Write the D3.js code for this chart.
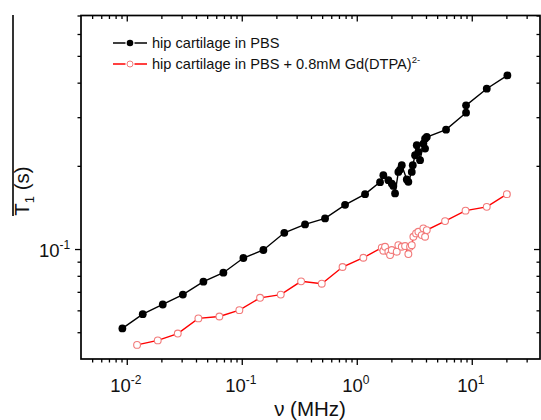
<!DOCTYPE html>
<html><head><meta charset="utf-8">
<script src="https://cdn.jsdelivr.net/npm/d3@7"></script>
<style>body{margin:0;background:#fff}svg{display:block}text{font-family:"Liberation Sans",Arial,sans-serif}</style>
</head><body><div id="chart"></div>
<script>
// ---- data ----
const freqBlack = [0.00916,0.01377,0.02056,0.03076,0.0464,0.0692,0.1033,0.1542,0.2344,0.355,0.530,0.791,1.181,
  1.594,1.703,1.883,2.015,2.081,2.153,2.300,2.379,2.462,2.722,2.810,3.008,3.069,3.214,3.325,3.434,3.552,3.794,3.926,3.926,4.062,
  5.976,8.92,8.92,13.5,20.4];
const t1Black = [0.0516,0.0581,0.0630,0.0684,0.0762,0.0821,0.0928,0.0992,0.1145,0.1228,0.1291,0.1445,0.158,
  0.1746,0.185,0.1775,0.1726,0.1692,0.1589,0.1901,0.1939,0.201,0.1785,0.1750,0.1901,0.201,0.2185,0.2374,0.2246,0.2096,0.2407,0.2309,0.2509,0.2543,
  0.2704,0.3114,0.3311,0.3803,0.4249];
const freqRed = [0.01229,0.0186,0.02777,0.04195,0.0639,0.0953,0.1442,0.2183,0.328,0.4962,0.7522,1.141,
  1.650,1.703,1.762,1.883,1.948,2.015,2.227,2.300,2.462,2.630,2.810,2.908,3.008,3.106,3.279,3.434,3.674,3.794,3.926,4.062,
  5.86,8.83,13.5,20.2];
const t1Red = [0.04499,0.0467,0.04945,0.0561,0.0570,0.0601,0.0666,0.0684,0.0764,0.0749,0.0861,0.093,
  0.1011,0.0986,0.1019,0.0978,0.0951,0.0992,0.0978,0.1033,0.1019,0.1025,0.0959,0.1019,0.1033,0.1108,0.1139,0.1155,0.1123,0.1188,0.1108,0.1171,
  0.1262,0.1377,0.1421,0.158];
const xMajor = [0.01,0.1,1,10];
const xMajorLabels = [["10","-2"],["10","-1"],["10","0"],["10","1"]];
const xMinor = [0.005,0.006,0.007,0.008,0.009,0.02,0.03,0.04,0.05,0.06,0.07,0.08,0.09,
  0.2,0.3,0.4,0.5,0.6,0.7,0.8,0.9,2,3,4,5,6,7,8,9,20,30];
const yMajor = [0.1];
const yMajorLabels = [["10","-1"]];
const yMinor = [0.05,0.06,0.07,0.08,0.09,0.2,0.3,0.4,0.5,0.6,0.7];
const legendLabels = ["hip cartilage in PBS", "hip cartilage in PBS + 0.8mM Gd(DTPA)"];

// ---- layout ----
const W = 541, H = 420;
const L = 81, R = 540, T = 15.5, B = 359;
const svg = d3.select("#chart").append("svg").attr("width", W).attr("height", H);
const x = d3.scaleLog().domain([0.004, 40]).range([L, L + 460]);
const y = d3.scaleLog().domain([0.04, 0.7]).range([B, T]);

function styleAxis(g){ g.select(".domain").remove(); g.selectAll("line").attr("stroke","#000").attr("stroke-width",1.3); }

// ticks
svg.append("g").attr("transform",`translate(0,${B})`).call(d3.axisBottom(x).tickValues(xMajor).tickSize(6).tickFormat("")).call(styleAxis);
svg.append("g").attr("transform",`translate(0,${B})`).call(d3.axisBottom(x).tickValues(xMinor).tickSize(3.5).tickFormat("")).call(styleAxis);
svg.append("g").attr("transform",`translate(0,${T})`).call(d3.axisTop(x).tickValues(xMajor).tickSize(-6).tickFormat("")).call(styleAxis);
svg.append("g").attr("transform",`translate(0,${T})`).call(d3.axisTop(x).tickValues(xMinor).tickSize(-3.5).tickFormat("")).call(styleAxis);
svg.append("g").attr("transform",`translate(${L},0)`).call(d3.axisLeft(y).tickValues(yMajor).tickSize(6).tickFormat("")).call(styleAxis);
svg.append("g").attr("transform",`translate(${L},0)`).call(d3.axisLeft(y).tickValues(yMinor).tickSize(3.5).tickFormat("")).call(styleAxis);
svg.append("g").attr("transform",`translate(${R},0)`).call(d3.axisRight(y).tickValues(yMajor).tickSize(-6).tickFormat("")).call(styleAxis);
svg.append("g").attr("transform",`translate(${R},0)`).call(d3.axisRight(y).tickValues(yMinor).tickSize(-3.5).tickFormat("")).call(styleAxis);

// frame
svg.append("rect").attr("x",L).attr("y",T).attr("width",R-L).attr("height",B-T)
  .attr("fill","none").attr("stroke","#000").attr("stroke-width",1.7);

// tick labels
xMajor.forEach((v,i)=>{
  const t = svg.append("text").attr("x", x(v)-1).attr("y", 392).attr("text-anchor","middle").attr("font-size",18.5).attr("fill","#111");
  t.append("tspan").text(xMajorLabels[i][0]);
  t.append("tspan").attr("dy",-8).attr("font-size",12).text(xMajorLabels[i][1]);
});
yMajor.forEach((v,i)=>{
  const t = svg.append("text").attr("x", 39).attr("y", y(v)+8).attr("font-size",18.5).attr("fill","#111");
  t.append("tspan").text(yMajorLabels[i][0]);
  t.append("tspan").attr("dy",-8).attr("font-size",12).text(yMajorLabels[i][1]);
});

// axis titles
svg.append("text").attr("x",310).attr("y",416).attr("text-anchor","middle").attr("font-size",20.5).attr("fill","#111").text("ν (MHz)");
const yt = svg.append("text").attr("transform","translate(29,191) rotate(-90)").attr("text-anchor","middle").attr("font-size",20.5).attr("fill","#111");
yt.append("tspan").text("T");
yt.append("tspan").attr("dy",5).attr("font-size",13).text("1");
yt.append("tspan").attr("dy",-5).text(" (s)");
svg.append("line").attr("x1",13).attr("x2",13).attr("y1",15).attr("y2",216).attr("stroke","#000").attr("stroke-width",1.6);

// series
const line = d3.line().x(d=>x(d[0])).y(d=>y(d[1]));
const black = freqBlack.map((f,i)=>[f,t1Black[i]]);
const red = freqRed.map((f,i)=>[f,t1Red[i]]);
svg.append("path").datum(black).attr("d",line).attr("fill","none").attr("stroke","#000").attr("stroke-width",1.4);
svg.append("path").datum(red).attr("d",line).attr("fill","none").attr("stroke","#ff0000").attr("stroke-width",1.4);
svg.append("g").selectAll("circle").data(black).join("circle")
  .attr("cx",d=>x(d[0])).attr("cy",d=>y(d[1])).attr("r",3.9).attr("fill","#000");
svg.append("g").selectAll("circle").data(red).join("circle")
  .attr("cx",d=>x(d[0])).attr("cy",d=>y(d[1])).attr("r",3.4).attr("fill","#fff").attr("stroke","#f27a7a").attr("stroke-width",1.1);

// legend
const lg = [[43,"#000",true],[64,"#ff0000",false]];
lg.forEach((s,i)=>{
  const yy = s[0];
  svg.append("line").attr("x1",113).attr("x2",125.5).attr("y1",yy).attr("y2",yy).attr("stroke",s[1]).attr("stroke-width",1.5);
  svg.append("line").attr("x1",134.5).attr("x2",147).attr("y1",yy).attr("y2",yy).attr("stroke",s[1]).attr("stroke-width",1.5);
  if (s[2]) svg.append("circle").attr("cx",130).attr("cy",yy).attr("r",3.3).attr("fill","#000");
  else svg.append("circle").attr("cx",130).attr("cy",yy).attr("r",3).attr("fill","#fff").attr("stroke","#f27a7a").attr("stroke-width",1);
  const t = svg.append("text").attr("x",152).attr("y",yy+5).attr("font-size",14.6).attr("fill","#111").text(legendLabels[i]);
  if (i===1) t.append("tspan").attr("dy",-6).attr("font-size",9.5).text("2-");
});
</script></body></html>
